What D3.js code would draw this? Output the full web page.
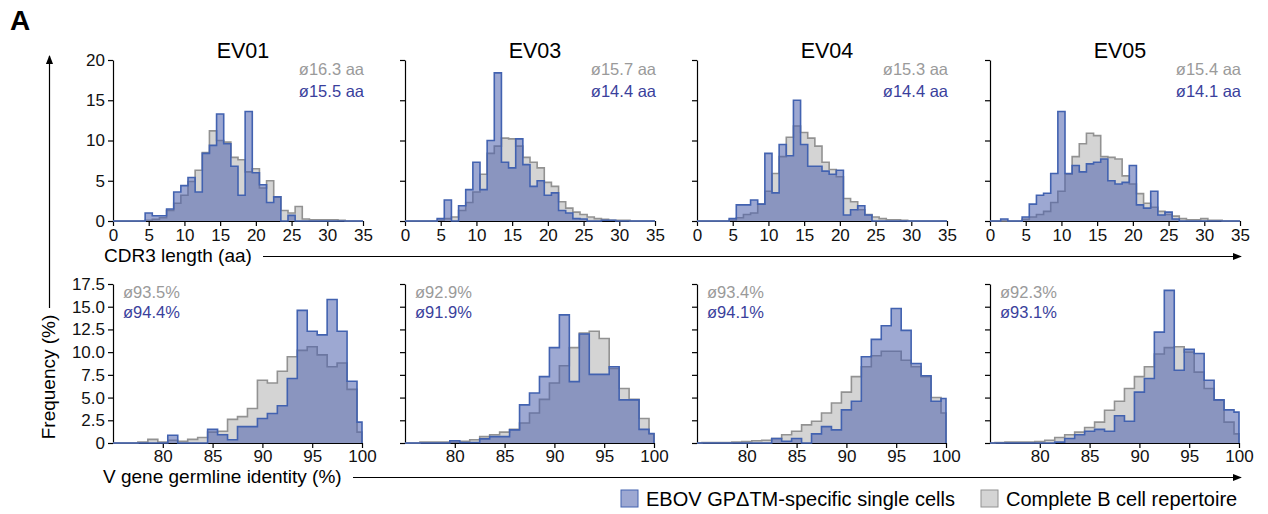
<!DOCTYPE html>
<meta charset="utf-8" />
<script src="https://d3js.org/d3.v7.js"></script>
<style>
  body { margin: 0; background: white; }
  text { font-family: "Liberation Sans", Arial, sans-serif; }
</style>
<div id="my_dataviz"></div>
<script>
  // donors and mean annotations
  const donors = ["EV01", "EV03", "EV04", "EV05"];
  const cdr3MeanRep = ["ø16.3 aa", "ø15.7 aa", "ø15.3 aa", "ø15.4 aa"];
  const cdr3MeanEbov = ["ø15.5 aa", "ø14.4 aa", "ø14.4 aa", "ø14.1 aa"];
  const vgeneMeanRep = ["ø93.5%", "ø92.9%", "ø93.4%", "ø92.3%"];
  const vgeneMeanEbov = ["ø94.4%", "ø91.9%", "ø94.1%", "ø93.1%"];

  // CDR3 length bins (1..35 aa), frequency %
  const cdr3Lengths = d3.range(1, 36);
  const cdr3Ebov = [
    [0,0,0,0,1.0,0.65,0.65,1.5,3.6,4.4,5.4,3.6,8.4,9.4,13.3,9.6,6.8,3.2,13.6,6.0,4.5,2.3,3.0,0,0.7,0,0,0,0,0,0,0,0,0,0],
    [0,0,0,0,0.3,2.6,0,1.9,3.9,7.3,3.9,10.0,18.4,7.3,6.6,10.2,7.0,4.3,5.0,3.2,3.5,1.3,1.0,0.3,0.25,0,0,0.1,0.1,0,0,0,0,0,0],
    [0,0,0,0,0.3,2.0,2.0,2.6,2.1,8.4,3.5,9.5,8.1,15.0,9.5,6.8,6.8,6.2,5.8,6.3,0.75,1.4,1.9,0.75,0,0,0,0,0,0,0,0,0,0,0],
    [0,0.25,0,0,0.5,2.1,3.2,3.45,5.9,13.6,5.9,6.9,6.1,7.1,7.3,7.7,5.0,4.6,4.8,6.9,2.0,1.6,3.7,0.75,1.1,0.25,0,0,0,0,0,0,0,0,0]
  ];
  const cdr3Rep = [
    [0,0,0,0,0.1,0.2,0.4,1.3,2.2,3.2,4.9,6.3,8.5,11.2,10.0,9.8,7.9,7.6,6.1,6.5,4.1,5.0,3.0,1.3,1.0,1.8,0.25,0.15,0.15,0.15,0.15,0.1,0,0,0],
    [0,0,0,0,0.1,0.3,0.5,1.3,2.3,3.6,5.8,8.4,9.3,10.3,10.2,9.3,7.9,7.3,6.6,4.8,4.3,2.4,1.6,1.1,0.8,0.5,0.3,0.2,0.1,0.1,0.1,0,0,0,0],
    [0,0,0,0,0.1,0.4,0.8,1.0,2.1,3.7,5.9,8.0,10.4,11.8,11.0,10.3,9.3,7.3,6.4,5.5,2.8,2.4,1.4,0.8,0.5,0.3,0.15,0.15,0.1,0,0,0,0,0,0],
    [0,0,0,0,0.2,0.5,0.8,1.2,2.3,3.7,5.8,8.0,9.6,10.9,10.6,8.0,7.9,7.7,5.6,4.6,3.4,2.2,1.7,1.2,0.8,0.6,0.3,0.15,0.15,0.3,0.1,0.1,0,0,0]
  ];

  // V gene germline identity bins (76..100 %), frequency %
  const vgeneIdentity = d3.range(76, 101);
  const vgeneEbov = [
    [0,0,0,0,0,0.85,0,0,0,1.5,0.9,0.35,1.8,1.8,2.7,3.25,4.1,7.1,14.6,12.3,11.9,15.8,12.3,6.8,2.3],
    [0,0,0,0,0.25,0.05,0.05,0.45,0.7,0.7,1.45,4.2,5.5,7.3,10.5,14.1,6.75,12.0,7.55,7.55,8.4,4.75,4.75,1.5,1.05],
    [0,0,0,0,0,0,0,0.5,0.2,0.5,0,1.0,1.8,1.45,3.65,4.6,9.5,11.4,12.9,14.8,12.4,8.75,7.4,4.6,4.9],
    [0,0,0,0,0,0,0.1,0.5,0.9,1.3,1.5,1.3,3.0,2.4,5.6,7.1,12.2,16.8,8.0,10.3,9.85,6.9,4.75,3.65,3.4]
  ];
  const vgeneRep = [
    [0,0,0.1,0.4,0.1,0.3,0.2,0.4,0.6,1.2,1.3,2.6,2.9,3.8,6.9,6.6,7.9,9.5,10.2,10.6,9.7,8.4,8.8,5.9,1.2],
    [0,0.1,0.1,0.1,0.1,0.2,0.35,0.7,0.9,1.2,1.5,2.2,3.3,4.8,6.6,8.5,10.5,12.1,12.3,11.5,8.2,6.0,4.8,2.7,1.0],
    [0.05,0.05,0.05,0.1,0.15,0.25,0.3,0.5,0.9,1.3,2.0,2.4,3.3,4.4,5.6,7.3,8.4,9.6,10.1,10.1,9.1,8.4,7.3,5.0,3.3],
    [0.05,0.1,0.1,0.1,0.15,0.3,0.6,0.9,1.2,1.7,2.3,3.6,4.6,6.0,7.3,8.4,9.8,10.5,10.6,10.0,7.8,6.0,4.7,2.3,1.0]
  ];

  const legendLabels = ["EBOV GPΔTM-specific single cells", "Complete B cell repertoire"];

  const width = 1268, height = 514;
  const panelLeft = [113, 405, 697, 990];
  const panelW = 250;

  const ebovFill = "rgba(76,96,173,0.55)", ebovStroke = "#4262b0";
  const repFill = "#d4d4d4", repStroke = "#929292";
  const ebovText = "#3a3f9c", repText = "#9a9a9a";

  const svg = d3
    .select("#my_dataviz")
    .append("svg")
    .attr("width", width)
    .attr("height", height);

  svg.append("defs")
    .append("marker")
    .attr("id", "arrow")
    .attr("viewBox", "0 0 10 10")
    .attr("refX", 9)
    .attr("refY", 5)
    .attr("markerWidth", 9)
    .attr("markerHeight", 9)
    .attr("markerUnits", "userSpaceOnUse")
    .attr("orient", "auto")
    .append("path")
    .attr("d", "M0,1L10,5L0,9Z")
    .attr("fill", "black");

  // build step points from bin centres, clipped to the domain
  function stepPoints(centres, values, lo, hi) {
    const pts = [[lo, 0]];
    centres.forEach((c, i) => pts.push([Math.max(c - 0.5, lo), values[i]]));
    pts.push([hi, 0]);
    return pts;
  }

  function drawHist(g, x, y, centres, values, fill, stroke) {
    const [lo, hi] = x.domain();
    const pts = stepPoints(centres, values, lo, hi);
    g.append("path")
      .datum(pts)
      .attr("fill", fill)
      .attr("d", d3.area().curve(d3.curveStepAfter)
        .x(d => x(d[0])).y0(y(0)).y1(d => y(d[1])));
    g.append("path")
      .datum(pts)
      .attr("fill", "none")
      .attr("stroke", stroke)
      .attr("stroke-width", 1.6)
      .attr("d", d3.line().curve(d3.curveStepAfter)
        .x(d => x(d[0])).y(d => y(d[1])));
  }

  function styleAxis(ax) {
    ax.select(".domain").attr("stroke", "black").attr("stroke-width", 1.2);
    ax.selectAll(".tick line").attr("stroke", "black").attr("stroke-width", 1.2);
    ax.selectAll("text")
      .style("font-family", '"Liberation Sans", Arial, sans-serif')
      .style("font-size", "17px")
      .attr("fill", "#111");
  }

  donors.forEach(function (name, i) {
    const x0 = panelLeft[i];

    // ---- top row: CDR3 length ----
    const xTop = d3.scaleLinear().domain([0, 35]).range([x0, x0 + panelW]);
    const yTop = d3.scaleLinear().domain([0, 20]).range([221, 60]);
    const gTop = svg.append("g");

    const yAxTop = gTop.append("g")
      .attr("transform", `translate(${x0},0)`)
      .call(d3.axisLeft(yTop).tickValues([0, 5, 10, 15, 20]).tickSize(5).tickSizeOuter(0)
        .tickFormat(i === 0 ? d3.format("d") : ""));
    styleAxis(yAxTop);
    const xAxTop = gTop.append("g")
      .attr("transform", `translate(0,${yTop(0)})`)
      .call(d3.axisBottom(xTop).tickValues(d3.range(0, 36, 5)).tickSize(5).tickSizeOuter(0));
    styleAxis(xAxTop);

    drawHist(gTop, xTop, yTop, cdr3Lengths, cdr3Rep[i], repFill, repStroke);
    drawHist(gTop, xTop, yTop, cdr3Lengths, cdr3Ebov[i], ebovFill, ebovStroke);

    gTop.append("text")
      .attr("x", x0 + panelW / 2 + 5)
      .attr("y", 58)
      .attr("text-anchor", "middle")
      .style("font-size", "21.5px")
      .text(name);
    gTop.append("text")
      .attr("x", x0 + panelW + 1)
      .attr("y", 75)
      .attr("text-anchor", "end")
      .style("font-size", "16.5px")
      .attr("fill", repText)
      .text(cdr3MeanRep[i]);
    gTop.append("text")
      .attr("x", x0 + panelW + 1)
      .attr("y", 97)
      .attr("text-anchor", "end")
      .style("font-size", "16.5px")
      .attr("fill", ebovText)
      .text(cdr3MeanEbov[i]);

    // ---- bottom row: V gene germline identity ----
    const xBot = d3.scaleLinear().domain([75, 100]).range([x0, x0 + panelW - 1]);
    const yBot = d3.scaleLinear().domain([0, 17.5]).range([443, 284]);
    const gBot = svg.append("g");

    const yAxBot = gBot.append("g")
      .attr("transform", `translate(${x0},0)`)
      .call(d3.axisLeft(yBot).tickValues(d3.range(0, 17.6, 2.5)).tickSize(5).tickSizeOuter(0)
        .tickFormat(i === 0 ? (d => d === 0 ? "0" : d3.format(".1f")(d)) : ""));
    styleAxis(yAxBot);
    const xAxBot = gBot.append("g")
      .attr("transform", `translate(0,${yBot(0)})`)
      .call(d3.axisBottom(xBot).tickValues([80, 85, 90, 95, 100]).tickSize(5).tickSizeOuter(0).tickPadding(2));
    styleAxis(xAxBot);

    drawHist(gBot, xBot, yBot, vgeneIdentity, vgeneRep[i], repFill, repStroke);
    drawHist(gBot, xBot, yBot, vgeneIdentity, vgeneEbov[i], ebovFill, ebovStroke);

    gBot.append("text")
      .attr("x", x0 + 10)
      .attr("y", 298)
      .style("font-size", "16.5px")
      .attr("fill", repText)
      .text(vgeneMeanRep[i]);
    gBot.append("text")
      .attr("x", x0 + 10)
      .attr("y", 318)
      .style("font-size", "16.5px")
      .attr("fill", ebovText)
      .text(vgeneMeanEbov[i]);
  });

  // panel letter
  svg.append("text")
    .attr("x", 10)
    .attr("y", 30)
    .style("font-size", "28px")
    .style("font-weight", "bold")
    .text("A");

  // shared axis labels with arrows
  svg.append("text")
    .attr("x", 104)
    .attr("y", 262)
    .style("font-size", "19px")
    .text("CDR3 length (aa)");
  svg.append("line")
    .attr("x1", 263).attr("x2", 1241)
    .attr("y1", 256.5).attr("y2", 256.5)
    .attr("stroke", "black").attr("stroke-width", 1.2)
    .attr("marker-end", "url(#arrow)");

  svg.append("text")
    .attr("x", 103)
    .attr("y", 483)
    .style("font-size", "19px")
    .text("V gene germline identity (%)");
  svg.append("line")
    .attr("x1", 353).attr("x2", 1241)
    .attr("y1", 477.5).attr("y2", 477.5)
    .attr("stroke", "black").attr("stroke-width", 1.2)
    .attr("marker-end", "url(#arrow)");

  svg.append("text")
    .attr("transform", "translate(55,377) rotate(-90)")
    .attr("text-anchor", "middle")
    .style("font-size", "19px")
    .text("Frequency (%)");
  svg.append("line")
    .attr("x1", 49.5).attr("x2", 49.5)
    .attr("y1", 308).attr("y2", 56)
    .attr("stroke", "black").attr("stroke-width", 1.2)
    .attr("marker-end", "url(#arrow)");

  // legend
  const legend = svg.append("g");
  const legendFills = [ebovFill, repFill];
  const legendStrokes = [ebovStroke, repStroke];
  let lx = 621;
  legendLabels.forEach(function (lab, k) {
    legend.append("rect")
      .attr("x", lx).attr("y", 490)
      .attr("width", 17).attr("height", 17)
      .attr("fill", legendFills[k])
      .attr("stroke", legendStrokes[k])
      .attr("stroke-width", 1);
    const t = legend.append("text")
      .attr("x", lx + 25)
      .attr("y", 506)
      .style("font-size", "20px")
      .text(lab);
    lx += 25 + t.node().getComputedTextLength() + 26;
  });
</script>
